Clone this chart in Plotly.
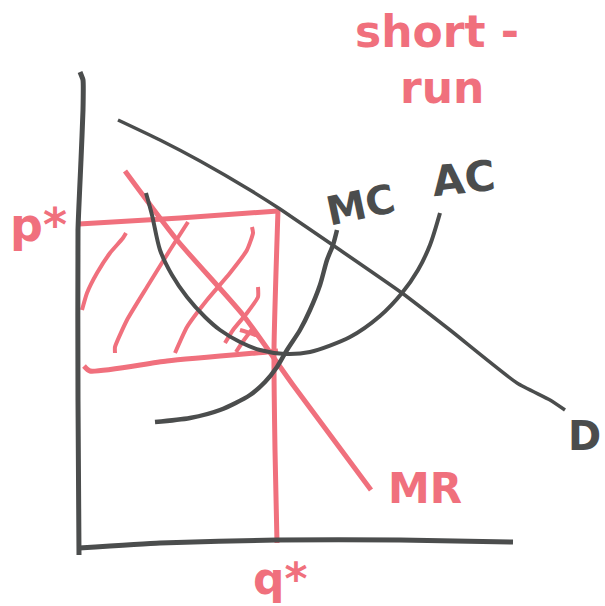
import plotly.graph_objects as go

# Short-run monopoly: demand, marginal revenue, marginal cost and average cost.
# Quantity runs along q, price along p; the origin sits at the corner of the axes.

# Axes, drawn by hand
axis_v_q = [1, 4, 4, 2, -1, -1, 0]
axis_v_p = [474, 466, 436, 386, 316, 146, -9]
axis_h_q = [0, 81, 198, 321, 434]
axis_h_p = [-2, 3, 6, 6, 4]

# Demand
d_q = [39, 81, 121, 171, 201, 261, 323, 371, 438, 471, 486]
d_p = [426, 406, 385, 356, 337, 296, 253, 216, 163, 146, 136]

# Marginal cost
mc_q = [76, 111, 141, 171, 186, 198, 208, 221, 231, 241, 248, 254, 258]
mc_p = [124, 128, 136, 151, 164, 179, 196, 216, 236, 261, 286, 301, 316]

# Average cost
ac_q = [67, 73, 81, 93, 108, 126, 141, 161, 181, 206, 231, 271, 301, 323, 339, 351, 361]
ac_p = [353, 331, 296, 271, 249, 229, 216, 204, 196, 192, 194, 209, 230, 253, 276, 301, 333]

# Marginal revenue
mr_q = [46, 98, 164, 214, 292]
mr_p = [375, 306, 231, 161, 56]

# Profit box: price p*, quantity q*, average cost at q*
top_q = [0, 101, 199]
top_p = [322, 328, 335]
qstar_q = [199, 195, 196, 198]
qstar_p = [336, 196, 96, 3]
bottom_q = [5, 11, 88, 188, 199]
bottom_p = [180, 175, 185, 194, 195]

# Hatching inside the profit box
hatch = [
    ([47, 44, 31, 18, 8, 3], [313, 308, 293, 273, 253, 236]),
    ([109, 91, 68, 48, 36, 36], [324, 296, 259, 226, 199, 193]),
    ([173, 174, 168, 151, 128, 108, 96], [319, 313, 296, 273, 246, 219, 193]),
    ([179, 179, 168, 154, 146], [259, 249, 233, 216, 203]),
    ([174, 165, 157], [218, 206, 194]),
    ([161, 171, 179], [216, 213, 210]),
]

INK = "#4b4d4d"
PEN = "#f0707d"

fig = go.Figure()


def stroke(q, p, color, width, smooth=0.6):
    fig.add_trace(go.Scatter(
        x=q, y=p, mode="lines",
        line=dict(color=color, width=width, shape="spline", smoothing=smooth),
        hoverinfo="skip", showlegend=False,
    ))


# red profit rectangle and hatching first, so the dark curves sit on top
stroke(top_q, top_p, PEN, 5)
stroke(qstar_q, qstar_p, PEN, 5)
stroke(bottom_q, bottom_p, PEN, 5)
for hq, hp in hatch:
    stroke(hq, hp, PEN, 4, 0.5)
stroke(mr_q, mr_p, PEN, 5)

stroke(axis_v_q, axis_v_p, INK, 5, 0.4)
stroke(axis_h_q, axis_h_p, INK, 5, 0.4)
stroke(d_q, d_p, INK, 3.5, 0.5)
stroke(mc_q, mc_p, INK, 4.5, 0.8)
stroke(ac_q, ac_p, INK, 4, 0.8)

labels = [
    ("short -", 358, 515, PEN, 44, 0),
    ("run", 363, 459, PEN, 44, 0),
    ("MC", 281, 341, INK, 40, -12),
    ("AC", 384, 368, INK, 42, -6),
    ("D", 505, 110, INK, 40, 0),
    ("MR", 346, 58, PEN, 42, 0),
    ("p*", -41, 321, PEN, 46, 0),
    ("q*", 201, -32, PEN, 44, 0),
]
for text, x, y, color, size, angle in labels:
    fig.add_annotation(
        x=x, y=y, xref="x", yref="y", text="<b>%s</b>" % text, showarrow=False,
        font=dict(family="DejaVu Sans", size=size, color=color),
        textangle=angle, xanchor="center", yanchor="middle",
    )

fig.update_layout(
    width=605, height=606,
    margin=dict(l=0, r=0, t=0, b=0),
    paper_bgcolor="white", plot_bgcolor="white",
    xaxis=dict(range=[-79, 526], visible=False, fixedrange=True),
    yaxis=dict(range=[-60, 546], visible=False, fixedrange=True),
    showlegend=False,
)

fig.write_html("out.html")
